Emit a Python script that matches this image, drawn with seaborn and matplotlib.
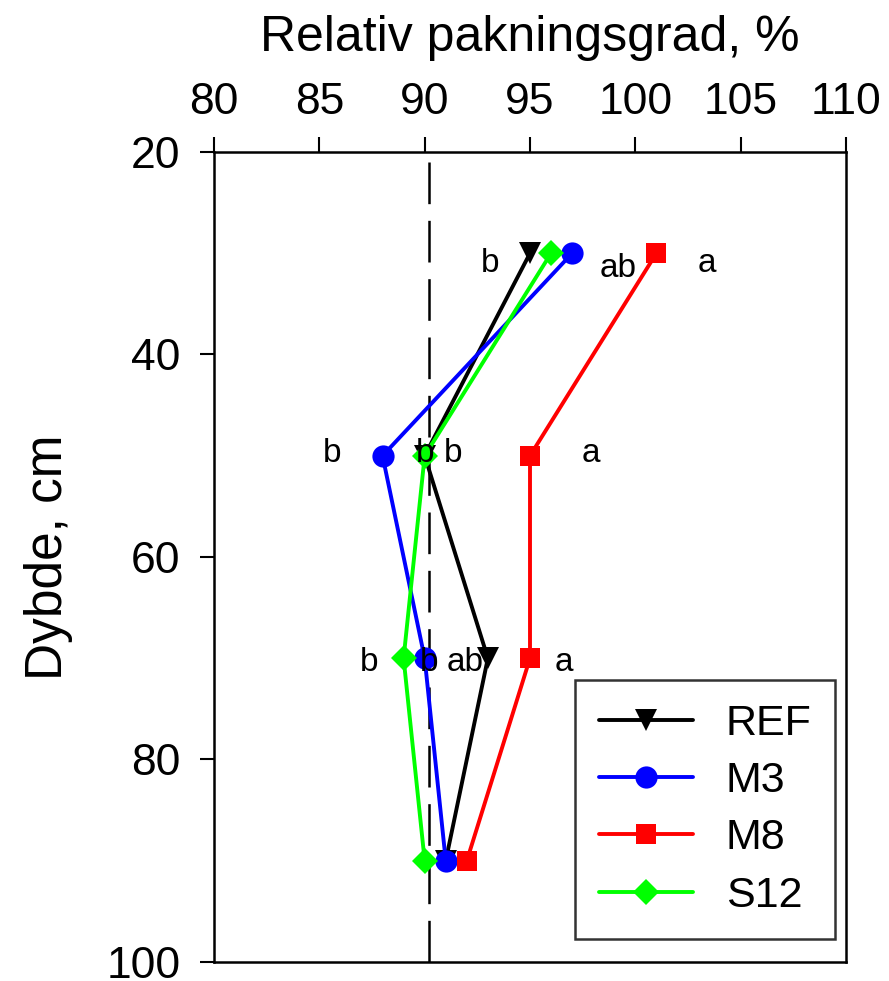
import matplotlib
matplotlib.use("Agg")
import matplotlib.pyplot as plt
import seaborn as sns
import pandas as pd

# ---- data ----
depths = [30, 50, 70, 90]
series_names = ["REF", "M3", "M8", "S12"]
ref_vals = [95, 90, 93, 91]
m3_vals = [97, 88, 90, 91]
m8_vals = [101, 95, 95, 92]
s12_vals = [96, 90, 89, 90]
ref_line_x = 90.2

x_ticks = [80, 85, 90, 95, 100, 105, 110]
y_ticks = [20, 40, 60, 80, 100]

# significance letters: (text, x, depth)
letter_text = ["b", "ab", "a", "b", "b", "b", "a", "b", "b", "ab", "a"]
letter_x = [93.1, 99.2, 103.4, 85.6, 90.0, 91.35, 97.9, 87.35, 90.2, 91.9, 96.6]
letter_y = [31.0, 31.5, 31.0, 49.8, 49.8, 49.8, 49.8, 70.4, 70.4, 70.4, 70.4]

values = {"REF": ref_vals, "M3": m3_vals, "M8": m8_vals, "S12": s12_vals}
rows = []
for name in series_names:
    for d, v in zip(depths, values[name]):
        rows.append({"Serie": name, "Dybde": d, "Verdi": v})
df = pd.DataFrame(rows)

sns.set_theme(style="white")
plt.rcParams["font.family"] = ["Liberation Sans", "DejaVu Sans"]
plt.rcParams["lines.scale_dashes"] = False
plt.rcParams["text.color"] = "black"
plt.rcParams["axes.labelcolor"] = "black"

fig = plt.figure(figsize=(8.89, 9.81), dpi=100)
ax = fig.add_axes([214 / 889, 1 - 962 / 981, (846 - 214) / 889, (962 - 152) / 981])

palette = {"REF": "#000000", "M3": "#0000FF", "M8": "#FF0000", "S12": "#00FF00"}
markers = {"REF": "v", "M3": "o", "M8": "s", "S12": "D"}

sns.lineplot(data=df, x="Verdi", y="Dybde", hue="Serie", style="Serie",
             hue_order=series_names, style_order=series_names,
             palette=palette, markers=markers, dashes=False, orient="y",
             sort=False, estimator=None, ax=ax, zorder=3)

msize = {"REF": 16, "M3": 16, "M8": 14.5, "S12": 13.5}
lw = 2.8
for line, name in zip(ax.lines, series_names):
    line.set_linewidth(lw)
    line.set_markersize(msize[name])
    line.set_markeredgewidth(0)

vl = ax.axvline(ref_line_x, color="black", lw=1.8, zorder=1)
vl.set_dashes((30, 12))

for t, x, y in zip(letter_text, letter_x, letter_y):
    ax.text(x, y, t, fontsize=24, ha="center", va="center", color="black", zorder=5)

ax.set_xlim(80, 110)
ax.set_ylim(100, 20)
ax.set_xticks(x_ticks)
ax.set_yticks(y_ticks)
ax.xaxis.tick_top()
ax.xaxis.set_label_position("top")
ax.set_xlabel("Relativ pakningsgrad, %", fontsize=36, labelpad=22, color="black")
ax.set_ylabel("Dybde, cm", fontsize=37, labelpad=24, color="black")
ax.tick_params(axis="x", which="both", top=True, bottom=False, direction="out",
               length=11, width=1.5, labelsize=32, pad=10, colors="black")
ax.tick_params(axis="y", which="both", left=True, direction="out",
               length=10, width=1.5, labelsize=32, pad=14, colors="black")
for sp in ax.spines.values():
    sp.set_visible(True)
    sp.set_color("black")
    sp.set_linewidth(1.8)

leg = ax.legend(loc="lower right", bbox_to_anchor=(0.983, 0.028), borderaxespad=0,
                fontsize=31, handlelength=2.2, handletextpad=0.75, labelspacing=0.4,
                frameon=True, fancybox=False, edgecolor="black", borderpad=0.55)
leg.get_frame().set_linewidth(1.8)
for h, name in zip(leg.get_lines(), series_names):
    h.set_linewidth(lw)
    h.set_markersize(msize[name])
    h.set_markeredgewidth(0)

fig.savefig("out.png", dpi=100)
